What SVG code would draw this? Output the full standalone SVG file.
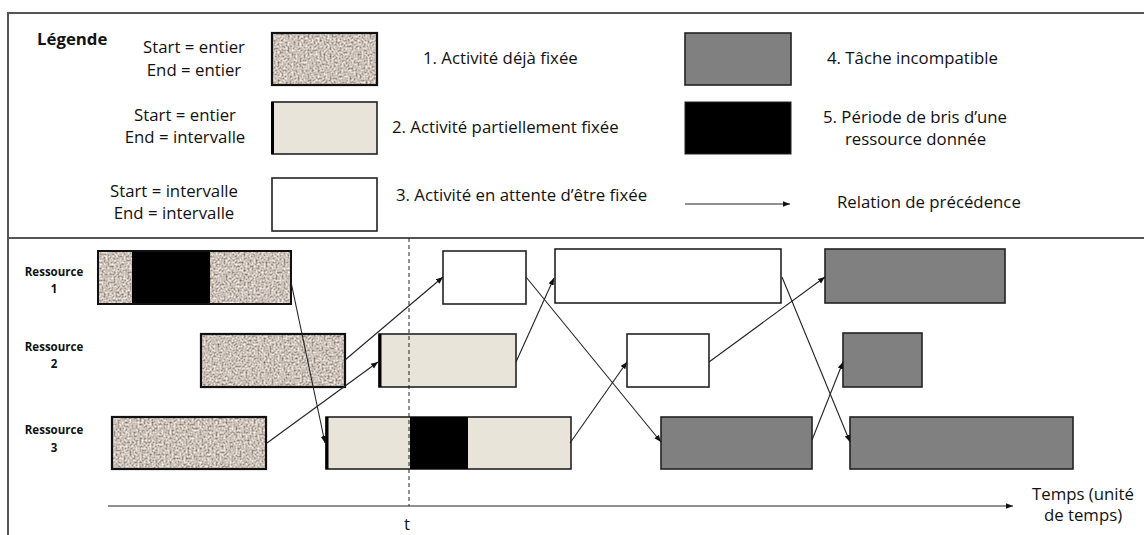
<svg xmlns="http://www.w3.org/2000/svg" width="1144" height="535" viewBox="0 0 1144 535">
<style>
.t{font-family:"Open Sans","Liberation Sans",sans-serif;font-size:16.8px;fill:#111}
.c{text-anchor:middle}
.b{font-weight:bold}
.r{font-family:"Open Sans","Liberation Sans",sans-serif;font-size:11.5px;font-weight:bold;fill:#111;text-anchor:middle}
.grain{filter:url(#grain)}
.part{fill:#e9e4da;stroke:#222;stroke-width:1.6}
.wait{fill:#fff;stroke:#222;stroke-width:1.6}
.inc{fill:#808080;stroke:#222;stroke-width:1.6}
.brk{fill:#000}
.frame{stroke:#555;stroke-width:2;fill:none}
.edge{stroke:#222;stroke-width:1.1;fill:none;marker-end:url(#ah)}
.thick{stroke:#000;stroke-width:3}
</style>
<defs>
<filter id="grain" x="0" y="0" width="100%" height="100%">
<feTurbulence type="fractalNoise" baseFrequency="0.5" numOctaves="2" seed="4" result="n"/>
<feColorMatrix in="n" type="matrix" values="1.25 0 0 0 -0.03  1.25 0 0 0 -0.09  1.25 0 0 0 -0.14  0 0 0 0 1" result="c"/>
<feComposite in="c" in2="SourceAlpha" operator="in"/>
</filter>
<marker id="ah" viewBox="0 0 10 10" refX="10" refY="5" markerWidth="7" markerHeight="7" orient="auto" markerUnits="userSpaceOnUse">
<path d="M0,1 L10,5 L0,9 z" fill="#111"/>
</marker>
</defs>
<rect width="1144" height="535" fill="#fff"/>
<g id="frame">
<line class="frame" x1="8" y1="13" x2="1144" y2="13"/>
<line class="frame" x1="8" y1="12" x2="8" y2="535"/>
<line class="frame" x1="8" y1="238" x2="1144" y2="238"/>
</g>
<g id="legend">
<text class="t b" x="37" y="45" font-size="15.5">Légende</text>
<g id="leg1">
<text class="t c" x="194" y="53">Start = entier</text>
<text class="t c" x="194" y="76">End = entier</text>
<rect class="grain" x="272" y="33" width="105" height="52"/>
<rect x="272" y="33" width="105" height="52" fill="none" stroke="#111" stroke-width="2.2"/>
<text class="t" x="423" y="64">1. Activité déjà fixée</text>
</g>
<g id="leg2">
<text class="t c" x="185" y="121">Start = entier</text>
<text class="t c" x="185" y="143">End = intervalle</text>
<rect class="part" x="272" y="102" width="105" height="52"/>
<line class="thick" x1="272.5" y1="102" x2="272.5" y2="154"/>
<text class="t" x="392" y="133">2. Activité partiellement fixée</text>
</g>
<g id="leg3">
<text class="t c" x="174" y="197">Start = intervalle</text>
<text class="t c" x="174" y="219">End = intervalle</text>
<rect class="wait" x="272" y="178" width="105" height="53"/>
<text class="t" x="396" y="201">3. Activité en attente d’être fixée</text>
</g>
<g id="leg4">
<rect class="inc" x="685" y="33" width="106" height="52"/>
<text class="t" x="827" y="64">4. Tâche incompatible</text>
</g>
<g id="leg5">
<rect class="brk" x="685" y="102" width="106" height="52" stroke="#222" stroke-width="1"/>
<text class="t" x="823" y="123">5. Période de bris d’une</text>
<text class="t" x="845" y="145">ressource donnée</text>
</g>
<g id="leg6">
<line class="edge" x1="685" y1="204" x2="790" y2="204"/>
<text class="t" x="837" y="208">Relation de précédence</text>
</g>
</g>
<g id="labels">
<text class="r" x="54" y="276">Ressource</text>
<text class="r" x="54" y="293">1</text>
<text class="r" x="54" y="351">Ressource</text>
<text class="r" x="54" y="368">2</text>
<text class="r" x="54" y="434">Ressource</text>
<text class="r" x="54" y="452">3</text>
</g>
<g id="r1-fixed">
<rect class="grain" x="98" y="251" width="193" height="53"/>
<rect class="brk" x="132" y="251" width="78" height="53"/>
<rect x="98" y="251" width="193" height="53" fill="none" stroke="#111" stroke-width="2"/>
</g>
<g id="r2-fixed">
<rect class="grain" x="201" y="334" width="144" height="53"/>
<rect x="201" y="334" width="144" height="53" fill="none" stroke="#111" stroke-width="2.2"/>
</g>
<g id="r3-fixed">
<rect class="grain" x="112" y="417" width="154" height="52"/>
<rect x="112" y="417" width="154" height="52" fill="none" stroke="#111" stroke-width="2.2"/>
</g>
<g id="r2-part">
<rect class="part" x="379" y="334" width="137" height="53"/>
<line class="thick" x1="380" y1="334" x2="380" y2="387"/>
</g>
<g id="r3-part">
<rect class="part" x="326" y="417" width="245" height="52"/>
<rect class="brk" x="410" y="417" width="58" height="52"/>
<line class="thick" x1="327" y1="417" x2="327" y2="469"/>
</g>
<g id="r1-wait-a"><rect class="wait" x="443" y="251" width="83" height="53"/></g>
<g id="r1-wait-b"><rect class="wait" x="555" y="249" width="226" height="54"/></g>
<g id="r2-wait"><rect class="wait" x="627" y="334" width="82" height="53"/></g>
<g id="r3-inc-a"><rect class="inc" x="661" y="417" width="151" height="52"/></g>
<g id="r1-inc"><rect class="inc" x="825" y="249" width="180" height="54"/></g>
<g id="r2-inc"><rect class="inc" x="843" y="333" width="79" height="54"/></g>
<g id="r3-inc-b"><rect class="inc" x="850" y="417" width="223" height="52"/></g>
<g id="axis">
<line x1="409" y1="238" x2="409" y2="506" stroke="#222" stroke-width="1" stroke-dasharray="4,3"/>
<line class="edge" x1="108" y1="506" x2="1013" y2="506"/>
<text class="t" x="404" y="530" font-size="14">t</text>
<text class="t c" x="1083" y="500">Temps (unité</text>
<text class="t c" x="1083" y="521">de temps)</text>
</g>
<g id="connectors">
<line class="edge" x1="291" y1="282" x2="325" y2="443"/>
<line class="edge" x1="345" y1="360" x2="443" y2="277"/>
<line class="edge" x1="267" y1="443" x2="378" y2="362"/>
<line class="edge" x1="516" y1="362" x2="554" y2="278"/>
<line class="edge" x1="526" y1="277" x2="661" y2="442"/>
<line class="edge" x1="570" y1="443" x2="627" y2="362"/>
<line class="edge" x1="709" y1="362" x2="825" y2="277"/>
<line class="edge" x1="782" y1="277" x2="850" y2="442"/>
<line class="edge" x1="812" y1="440" x2="843" y2="362"/>
</g>
</svg>
